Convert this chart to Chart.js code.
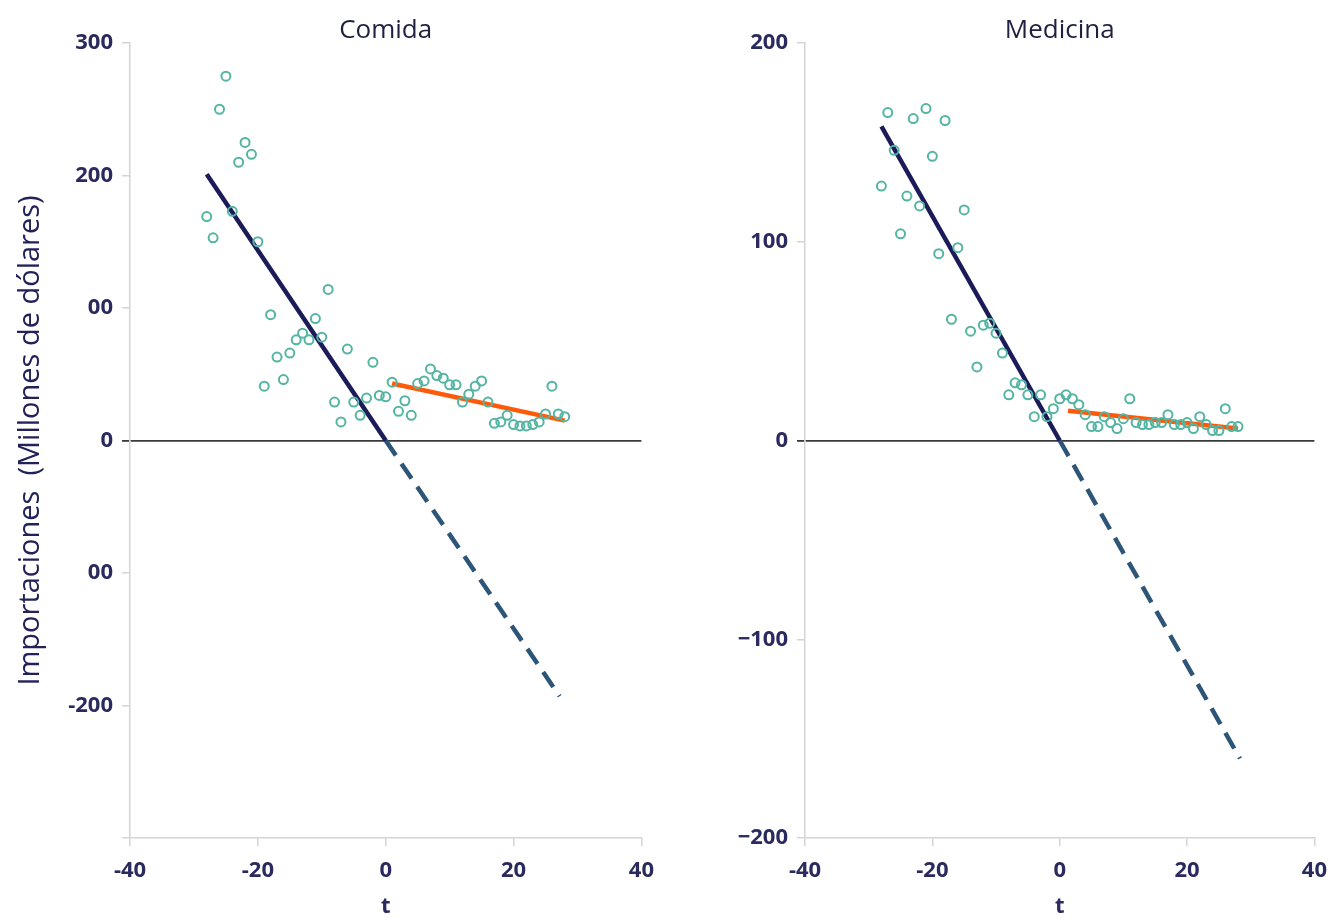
<!DOCTYPE html>
<html>
<head>
<meta charset="utf-8">
<script src="https://cdn.jsdelivr.net/npm/chart.js@4.4.0/dist/chart.umd.min.js"></script>
<style>
  body { margin: 0; background: #fff; width: 1331px; height: 918px; overflow: hidden; position: relative; }
  .panel { position: absolute; top: 0; }
</style>
</head>
<body>
<div class="panel" style="left:0"><canvas id="comida" width="666" height="918"></canvas></div>
<div class="panel" style="left:665px"><canvas id="medicina" width="674" height="918"></canvas></div>
<script>
// t (periods around the break)
const tValues = [-28,-27,-26,-25,-24,-23,-22,-21,-20,-19,-18,-17,-16,-15,-14,-13,-12,-11,-10,-9,
  -8,-7,-6,-5,-4,-3,-2,-1,0,1,2,3,4,5,6,7,8,9,10,11,12,13,14,15,16,17,18,19,20,21,22,23,24,25,26,27,28];

// imports, millions of dollars
const comidaValues = [169,153,250,275,173,210,225,216,150,41,95,63,46,66,76,81,76,92,78,114,
  29,14,69,29,19,32,59,34,33,44,22,30,19,43,45,54,49,47,42,42,29,35,41,45,29,13,14,19,12,11,11,12,14,20,41,20,18];
const medicinaValues = [128,165,146,104,123,162,118,167,143,94,161,61,97,116,55,37,58,59,54,44,
  23,29,28,23,12,23,12,16,21,23,21,18,13,7,7,12,9,6,11,21,9,8,8,9,9,13,8,8,9,6,12,8,5,5,16,7,7];

// fitted lines: before break, extrapolation, after break
const comidaPreX = [-28, 0],   comidaPreY = [201, 0];
const comidaExtX = [0, 27.2],  comidaExtY = [0, -193];
const comidaPostX = [1, 28],   comidaPostY = [43, 15];
const medicinaPreX = [-28, 0],   medicinaPreY = [158, 0];
const medicinaExtX = [0, 28.3],  medicinaExtY = [0, -160];
const medicinaPostX = [1.3, 28], medicinaPostY = [15, 6];

// tick labels as printed
const xTicks = [-40, -20, 0, 20, 40];
const comidaTickValues = [-300, -200, -100, 0, 100, 200, 300];
const comidaTickLabels = ['', '-200', '00', '0', '00', '200', '300'];
const medicinaTickValues = [-200, -100, 0, 100, 200];
const medicinaTickLabels = ['\u2212200', '\u2212100', '0', '100', '200'];

const NAVY = '#2a2a5e';
const GREY = '#d4d4d4';
const pts = (xs, ys) => xs.map((x, i) => ({ x: x, y: ys[i] }));
const isZero = c => c.tick && c.tick.value === 0;

// panel title centred over the plot area
const panelTitle = {
  id: 'panelTitle',
  afterDraw(chart, args, o) {
    const { ctx, chartArea } = chart;
    ctx.save();
    ctx.font = '500 26px "Open Sans"';
    ctx.fillStyle = '#1f1f3f';
    ctx.textAlign = 'center';
    ctx.textBaseline = 'middle';
    ctx.fillText(o.text, (chartArea.left + chartArea.right) / 2, 31);
    ctx.restore();
  }
};

function makeChart(id, opts) {
  const ctx = document.getElementById(id).getContext('2d');
  return new Chart(ctx, {
    type: 'scatter',
    data: {
      datasets: [
        {
          data: pts(tValues, opts.values),
          pointRadius: 4.5,
          pointBorderWidth: 2,
          borderColor: '#55b5a3',
          backgroundColor: 'rgba(0,0,0,0)',
          order: 0
        },
        {
          type: 'line', data: pts(opts.preX, opts.preY),
          borderColor: '#1b1b5a', borderWidth: 4.5, pointRadius: 0, order: 2
        },
        {
          type: 'line', data: pts(opts.extX, opts.extY),
          borderColor: '#2d5577', borderWidth: 4.5, borderDash: [18, 10], pointRadius: 0, order: 2
        },
        {
          type: 'line', data: pts(opts.postX, opts.postY),
          borderColor: '#ff5a0a', borderWidth: 4.5, pointRadius: 0, order: 1
        }
      ]
    },
    options: {
      responsive: false,
      animation: false,
      layout: { padding: { right: 8, top: 43, bottom: 0, left: 0 } },
      plugins: {
        legend: { display: false },
        tooltip: { enabled: false },
        title: { display: false },
        panelTitle: { text: opts.title }
      },
      scales: {
        x: {
          type: 'linear',
          min: -40, max: 40,
          afterBuildTicks: s => { s.ticks = xTicks.map(v => ({ value: v })); },
          afterFit: s => { s.height = 80; },
          border: { color: GREY, width: 1.5 },
          grid: { drawOnChartArea: false, drawTicks: true, tickLength: 8, color: GREY, lineWidth: 1.5 },
          ticks: { color: NAVY, padding: 12, font: { family: 'Open Sans', size: 22, weight: '700' } },
          title: {
            display: true, text: 't', color: NAVY,
            font: { family: 'Open Sans', size: 22, weight: '700', lineHeight: 1 },
            padding: { top: 0, bottom: 0 }
          }
        },
        y: {
          min: opts.yMin, max: opts.yMax,
          afterBuildTicks: s => { s.ticks = opts.tickValues.map(v => ({ value: v })); },
          afterFit: s => { s.width = opts.yWidth; },
          border: { color: GREY, width: 1.5 },
          grid: {
            drawOnChartArea: true, drawTicks: true, tickLength: 8,
            color: c => isZero(c) ? '#3a3a3a' : 'rgba(0,0,0,0)',
            tickColor: c => isZero(c) ? '#3a3a3a' : GREY,
            lineWidth: c => isZero(c) ? 1.8 : 1.5
          },
          ticks: {
            color: NAVY, padding: 9,
            font: { family: 'Open Sans', size: 22, weight: '700' },
            callback: v => {
              const i = opts.tickValues.indexOf(v);
              return i >= 0 ? opts.tickLabels[i] : '';
            }
          },
          title: {
            display: opts.yTitle !== '',
            text: opts.yTitle, color: '#22225a',
            font: { family: 'Open Sans', size: 29, weight: '500', lineHeight: 1 },
            padding: { top: 16, bottom: 0 }
          }
        }
      }
    },
    plugins: [panelTitle]
  });
}

makeChart('comida', {
  title: 'Comida', values: comidaValues,
  preX: comidaPreX, preY: comidaPreY, extX: comidaExtX, extY: comidaExtY,
  postX: comidaPostX, postY: comidaPostY,
  yMin: -300, yMax: 300, tickValues: comidaTickValues, tickLabels: comidaTickLabels,
  yWidth: 130, yTitle: 'Importaciones  (Millones de dólares)'
});

makeChart('medicina', {
  title: 'Medicina', values: medicinaValues,
  preX: medicinaPreX, preY: medicinaPreY, extX: medicinaExtX, extY: medicinaExtY,
  postX: medicinaPostX, postY: medicinaPostY,
  yMin: -200, yMax: 200, tickValues: medicinaTickValues, tickLabels: medicinaTickLabels,
  yWidth: 140, yTitle: ''
});
</script>
</body>
</html>
